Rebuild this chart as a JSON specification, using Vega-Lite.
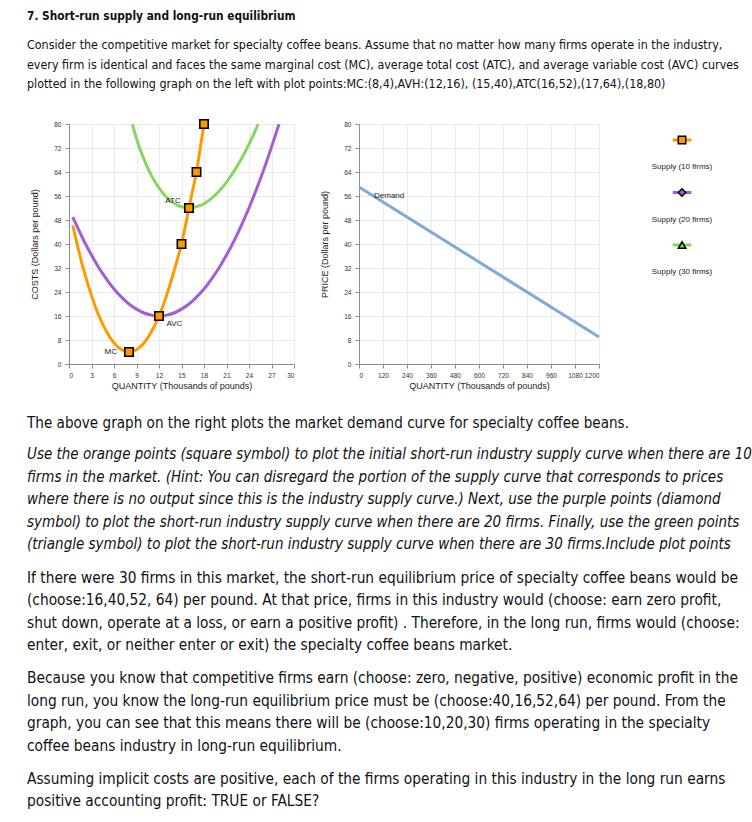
{
  "$schema": "https://vega.github.io/schema/vega-lite/v6.json",
  "background": "white",
  "padding": {"left": 27, "top": 7, "right": 0, "bottom": 0},
  "spacing": 10.5,
  "config": {
    "view": {"stroke": null},
    "axis": {
      "labelFont": "Liberation Sans", "titleFont": "Liberation Sans",
      "labelFontSize": 6.6, "titleFontSize": 9, "titleFontWeight": "normal",
      "labelColor": "#333333", "titleColor": "#222222",
      "domainColor": "#8c8c8c", "tickColor": "#8c8c8c", "gridColor": "#ebebeb",
      "tickSize": 4, "labelPadding": 4, "labelOverlap": false
    }
  },
  "vconcat": [
    {
      "width": 720, "height": 18,
      "data": {"values": [{"line": 1, "text": "7. Short-run supply and long-run equilibrium"}]},
      "mark": {"type": "text", "align": "left", "baseline": "middle", "font": "DejaVu Sans Condensed, DejaVu Sans, sans-serif", "fontSize": 11.8, "fontWeight": "bold", "color": "#111111"},
      "encoding": {
        "x": {"datum": 0, "type": "quantitative", "scale": {"domain": [0.05833, 1.05833], "nice": false, "zero": false}, "axis": null},
        "y": {"field": "line", "type": "quantitative", "scale": {"domain": [0.5, 1.5], "reverse": true, "nice": false, "zero": false}, "axis": null},
        "text": {"field": "text"}
      }
    },
    {
      "width": 720, "height": 70,
      "data": {"values": [
        {"line": 1, "text": "Consider the competitive market for specialty coffee beans. Assume that no matter how many firms operate in the industry,"},
        {"line": 2, "text": "every firm is identical and faces the same marginal cost (MC), average total cost (ATC), and average variable cost (AVC) curves"},
        {"line": 3, "text": "plotted in the following graph on the left with plot points:MC:(8,4),AVH:(12,16), (15,40),ATC(16,52),(17,64),(18,80)"}
      ]},
      "mark": {"type": "text", "align": "left", "baseline": "middle", "font": "DejaVu Sans Condensed, DejaVu Sans, sans-serif", "fontSize": 12.4, "color": "#111111"},
      "encoding": {
        "x": {"datum": 0, "type": "quantitative", "scale": {"domain": [0.05833, 1.05833], "nice": false, "zero": false}, "axis": null},
        "y": {"field": "line", "type": "quantitative", "scale": {"domain": [0.5, 4.09], "reverse": true, "nice": false, "zero": false}, "axis": null},
        "text": {"field": "text"}
      }
    },
    {
      "spacing": 25,
      "hconcat": [
        {
          "width": 225, "height": 240,
          "layer": [
            {
              "data": {"values": [
                {"curve": "MC", "q": 0.5, "c": 46.2}, {"curve": "MC", "q": 1, "c": 40.8}, {"curve": "MC", "q": 2, "c": 31}, {"curve": "MC", "q": 3, "c": 22.8}, {"curve": "MC", "q": 4, "c": 16}, {"curve": "MC", "q": 5, "c": 10.8}, {"curve": "MC", "q": 6, "c": 7}, {"curve": "MC", "q": 7, "c": 4.8}, {"curve": "MC", "q": 8, "c": 4}, {"curve": "MC", "q": 9, "c": 4.8}, {"curve": "MC", "q": 10, "c": 7}, {"curve": "MC", "q": 11, "c": 10.8}, {"curve": "MC", "q": 12, "c": 16}, {"curve": "MC", "q": 13, "c": 22.8}, {"curve": "MC", "q": 14, "c": 31}, {"curve": "MC", "q": 15, "c": 40}, {"curve": "MC", "q": 16, "c": 52}, {"curve": "MC", "q": 16.5, "c": 58}, {"curve": "MC", "q": 17, "c": 64}, {"curve": "MC", "q": 17.5, "c": 72}, {"curve": "MC", "q": 18, "c": 80},
                {"curve": "AVC", "q": 0.5, "c": 49}, {"curve": "AVC", "q": 1, "c": 46.3}, {"curve": "AVC", "q": 2, "c": 41}, {"curve": "AVC", "q": 3, "c": 36.3}, {"curve": "AVC", "q": 4, "c": 32}, {"curve": "AVC", "q": 5, "c": 28.3}, {"curve": "AVC", "q": 6, "c": 25}, {"curve": "AVC", "q": 7, "c": 22.3}, {"curve": "AVC", "q": 8, "c": 20}, {"curve": "AVC", "q": 9, "c": 18.3}, {"curve": "AVC", "q": 10, "c": 17}, {"curve": "AVC", "q": 11, "c": 16.3}, {"curve": "AVC", "q": 12, "c": 16}, {"curve": "AVC", "q": 13, "c": 16.3}, {"curve": "AVC", "q": 14, "c": 17}, {"curve": "AVC", "q": 15, "c": 18.3}, {"curve": "AVC", "q": 16, "c": 20}, {"curve": "AVC", "q": 17, "c": 22.3}, {"curve": "AVC", "q": 18, "c": 25}, {"curve": "AVC", "q": 19, "c": 28.3}, {"curve": "AVC", "q": 20, "c": 32}, {"curve": "AVC", "q": 21, "c": 36.3}, {"curve": "AVC", "q": 22, "c": 41}, {"curve": "AVC", "q": 23, "c": 46.3}, {"curve": "AVC", "q": 24, "c": 52}, {"curve": "AVC", "q": 25, "c": 58.3}, {"curve": "AVC", "q": 26, "c": 65}, {"curve": "AVC", "q": 27, "c": 72.3}, {"curve": "AVC", "q": 28, "c": 80},
                {"curve": "ATC", "q": 8.45, "c": 80}, {"curve": "ATC", "q": 9, "c": 75.1}, {"curve": "ATC", "q": 10, "c": 68.2}, {"curve": "ATC", "q": 11, "c": 62.8}, {"curve": "ATC", "q": 12, "c": 58.7}, {"curve": "ATC", "q": 13, "c": 55.6}, {"curve": "ATC", "q": 14, "c": 53.6}, {"curve": "ATC", "q": 15, "c": 52.4}, {"curve": "ATC", "q": 16, "c": 52}, {"curve": "ATC", "q": 17, "c": 52.4}, {"curve": "ATC", "q": 18, "c": 53.4}, {"curve": "ATC", "q": 19, "c": 55.2}, {"curve": "ATC", "q": 20, "c": 57.6}, {"curve": "ATC", "q": 21, "c": 60.6}, {"curve": "ATC", "q": 22, "c": 64.3}, {"curve": "ATC", "q": 23, "c": 68.5}, {"curve": "ATC", "q": 24, "c": 73.3}, {"curve": "ATC", "q": 25, "c": 78.7}, {"curve": "ATC", "q": 25.2, "c": 80}
              ]},
              "mark": {"type": "line", "interpolate": "monotone", "strokeWidth": 3, "clip": true},
              "encoding": {
                "x": {"field": "q", "type": "quantitative", "scale": {"domain": [0, 30], "nice": false},
                      "axis": {"values": [0, 3, 6, 9, 12, 15, 18, 21, 24, 27, 30], "tickCount": 11, "labelOverlap": false, "title": "QUANTITY (Thousands of pounds)", "titlePadding": 3}},
                "y": {"field": "c", "type": "quantitative", "scale": {"domain": [0, 80], "nice": false},
                      "axis": {"values": [0, 8, 16, 24, 32, 40, 48, 56, 64, 72, 80], "tickCount": 11, "labelOverlap": false, "title": "COSTS (Dollars per pound)", "titlePadding": 14}},
                "color": {"field": "curve", "type": "nominal", "scale": {"domain": ["MC", "AVC", "ATC"], "range": ["#ff9900", "#a25ed6", "#86d760"]}, "legend": null},
                "order": {"field": "q", "type": "quantitative"}
              }
            },
            {
              "data": {"values": [
                {"q": 8, "c": 4}, {"q": 12, "c": 16}, {"q": 15, "c": 40}, {"q": 16, "c": 52}, {"q": 17, "c": 64}, {"q": 18, "c": 80}
              ]},
              "mark": {"type": "point", "shape": "square", "filled": true, "size": 70, "fill": "#ff9900", "stroke": "#000000", "strokeWidth": 1.6, "opacity": 1},
              "encoding": {
                "x": {"field": "q", "type": "quantitative"},
                "y": {"field": "c", "type": "quantitative"}
              }
            },
            {
              "data": {"values": [
                {"label": "MC", "q": 6.4, "c": 4},
                {"label": "ATC", "q": 14.9, "c": 54.4}
              ]},
              "mark": {"type": "text", "align": "right", "baseline": "middle", "font": "Liberation Sans", "fontSize": 8, "color": "#222222"},
              "encoding": {
                "x": {"field": "q", "type": "quantitative"},
                "y": {"field": "c", "type": "quantitative"},
                "text": {"field": "label"}
              }
            },
            {
              "data": {"values": [
                {"label": "AVC", "q": 13.0, "c": 13.5}
              ]},
              "mark": {"type": "text", "align": "left", "baseline": "middle", "font": "Liberation Sans", "fontSize": 8, "color": "#222222"},
              "encoding": {
                "x": {"field": "q", "type": "quantitative"},
                "y": {"field": "c", "type": "quantitative"},
                "text": {"field": "label"}
              }
            }
          ]
        },
        {
          "width": 240, "height": 240,
          "layer": [
            {
              "data": {"values": [{"q": 0, "p": 59}, {"q": 1200, "p": 9}]},
              "mark": {"type": "line", "strokeWidth": 3, "color": "#7faad9"},
              "encoding": {
                "x": {"field": "q", "type": "quantitative", "scale": {"domain": [0, 1200], "nice": false},
                      "axis": {"values": [0, 120, 240, 360, 480, 600, 720, 840, 960, 1080, 1200], "tickCount": 11, "labelOverlap": false, "format": "d", "title": "QUANTITY (Thousands of pounds)", "titlePadding": 3}},
                "y": {"field": "p", "type": "quantitative", "scale": {"domain": [0, 80], "nice": false},
                      "axis": {"values": [0, 8, 16, 24, 32, 40, 48, 56, 64, 72, 80], "tickCount": 11, "labelOverlap": false, "title": "PRICE (Dollars per pound)", "titlePadding": 14}}
              }
            },
            {
              "data": {"values": [{"label": "Demand", "q": 75, "p": 56.1}]},
              "mark": {"type": "text", "align": "left", "baseline": "middle", "font": "Liberation Sans", "fontSize": 8, "color": "#222222"},
              "encoding": {
                "x": {"field": "q", "type": "quantitative"},
                "y": {"field": "p", "type": "quantitative"},
                "text": {"field": "label"}
              }
            }
          ]
        },
        {
          "width": 104, "height": 180,
          "data": {"values": [
            {"series": "Supply (10 firms)", "idx": 0},
            {"series": "Supply (20 firms)", "idx": 1},
            {"series": "Supply (30 firms)", "idx": 2}
          ]},
          "encoding": {
            "y": {"field": "idx", "type": "quantitative", "scale": {"domain": [-0.305, 3.124], "reverse": true, "nice": false, "zero": false}, "axis": null}
          },
          "layer": [
            {
              "mark": {"type": "rule", "strokeWidth": 3},
              "encoding": {
                "x": {"datum": 0.41, "type": "quantitative", "scale": {"domain": [0, 1]}, "axis": null},
                "x2": {"datum": 0.59},
                "color": {"field": "series", "type": "nominal", "scale": {"domain": ["Supply (10 firms)", "Supply (20 firms)", "Supply (30 firms)"], "range": ["#ff9900", "#a25ed6", "#86d760"]}, "legend": null}
              }
            },
            {
              "mark": {"type": "point", "filled": true, "size": 55, "stroke": "#000000", "strokeWidth": 1.5, "opacity": 1},
              "encoding": {
                "x": {"datum": 0.5, "type": "quantitative"},
                "fill": {"field": "series", "type": "nominal", "scale": {"domain": ["Supply (10 firms)", "Supply (20 firms)", "Supply (30 firms)"], "range": ["#ff9900", "#a25ed6", "#86d760"]}, "legend": null},
                "shape": {"field": "series", "type": "nominal", "scale": {"domain": ["Supply (10 firms)", "Supply (20 firms)", "Supply (30 firms)"], "range": ["square", "diamond", "triangle-up"]}, "legend": null}
              }
            },
            {
              "mark": {"type": "text", "align": "center", "baseline": "middle", "dy": 27, "font": "Liberation Sans", "fontSize": 8, "color": "#222222"},
              "encoding": {
                "x": {"datum": 0.5, "type": "quantitative"},
                "text": {"field": "series"}
              }
            }
          ]
        }
      ]
    },
    {
      "width": 720, "height": 30.75,
      "data": {"values": [{"line": 1, "text": "The above graph on the right plots the market demand curve for specialty coffee beans."}]},
      "mark": {"type": "text", "align": "left", "baseline": "middle", "font": "DejaVu Sans Condensed, DejaVu Sans, sans-serif", "fontSize": 15.1, "color": "#111111"},
      "encoding": {
        "x": {"datum": 0, "type": "quantitative", "scale": {"domain": [0.05833, 1.05833], "nice": false, "zero": false}, "axis": null},
        "y": {"field": "line", "type": "quantitative", "scale": {"domain": [0, 1.43], "reverse": true, "nice": false, "zero": false}, "axis": null},
        "text": {"field": "text"}
      }
    },
    {
      "width": 720, "height": 112.5,
      "data": {"values": [
        {"line": 1, "text": "Use the orange points (square symbol) to plot the initial short-run industry supply curve when there are 10"},
        {"line": 2, "text": "firms in the market. (Hint: You can disregard the portion of the supply curve that corresponds to prices"},
        {"line": 3, "text": "where there is no output since this is the industry supply curve.) Next, use the purple points (diamond"},
        {"line": 4, "text": "symbol) to plot the short-run industry supply curve when there are 20 firms. Finally, use the green points"},
        {"line": 5, "text": "(triangle symbol) to plot the short-run industry supply curve when there are 30 firms.Include plot points"}
      ]},
      "mark": {"type": "text", "align": "left", "baseline": "middle", "font": "DejaVu Sans Condensed, DejaVu Sans, sans-serif", "fontSize": 15, "fontStyle": "italic", "color": "#111111"},
      "encoding": {
        "x": {"datum": 0, "type": "quantitative", "scale": {"domain": [0.05833, 1.05833], "nice": false, "zero": false}, "axis": null},
        "y": {"field": "line", "type": "quantitative", "scale": {"domain": [0.5, 5.5], "reverse": true, "nice": false, "zero": false}, "axis": null},
        "text": {"field": "text"}
      }
    },
    {
      "width": 720, "height": 90,
      "data": {"values": [
        {"line": 1, "text": "If there were 30 firms in this market, the short-run equilibrium price of specialty coffee beans would be"},
        {"line": 2, "text": "(choose:16,40,52, 64) per pound. At that price, firms in this industry would (choose: earn zero profit,"},
        {"line": 3, "text": "shut down, operate at a loss, or earn a positive profit) . Therefore, in the long run, firms would (choose:"},
        {"line": 4, "text": "enter, exit, or neither enter or exit)  the specialty coffee beans market."}
      ]},
      "mark": {"type": "text", "align": "left", "baseline": "middle", "font": "DejaVu Sans Condensed, DejaVu Sans, sans-serif", "fontSize": 15.3, "color": "#111111"},
      "encoding": {
        "x": {"datum": 0, "type": "quantitative", "scale": {"domain": [0.05833, 1.05833], "nice": false, "zero": false}, "axis": null},
        "y": {"field": "line", "type": "quantitative", "scale": {"domain": [0.5, 4.5], "reverse": true, "nice": false, "zero": false}, "axis": null},
        "text": {"field": "text"}
      }
    },
    {
      "width": 720, "height": 90,
      "data": {"values": [
        {"line": 1, "text": "Because you know that competitive firms earn (choose: zero, negative, positive)   economic profit in the"},
        {"line": 2, "text": "long run, you know the long-run equilibrium price must be (choose:40,16,52,64)    per pound. From the"},
        {"line": 3, "text": "graph, you can see that this means there will be (choose:10,20,30)    firms operating in the specialty"},
        {"line": 4, "text": "coffee beans industry in long-run equilibrium."}
      ]},
      "mark": {"type": "text", "align": "left", "baseline": "middle", "font": "DejaVu Sans Condensed, DejaVu Sans, sans-serif", "fontSize": 15.3, "color": "#111111"},
      "encoding": {
        "x": {"datum": 0, "type": "quantitative", "scale": {"domain": [0.05833, 1.05833], "nice": false, "zero": false}, "axis": null},
        "y": {"field": "line", "type": "quantitative", "scale": {"domain": [0.5, 4.5], "reverse": true, "nice": false, "zero": false}, "axis": null},
        "text": {"field": "text"}
      }
    },
    {
      "width": 720, "height": 45,
      "data": {"values": [
        {"line": 1, "text": "Assuming implicit costs are positive, each of the firms operating in this industry in the long run earns"},
        {"line": 2, "text": "positive accounting profit: TRUE or FALSE?"}
      ]},
      "mark": {"type": "text", "align": "left", "baseline": "middle", "font": "DejaVu Sans Condensed, DejaVu Sans, sans-serif", "fontSize": 15.3, "color": "#111111"},
      "encoding": {
        "x": {"datum": 0, "type": "quantitative", "scale": {"domain": [0.05833, 1.05833], "nice": false, "zero": false}, "axis": null},
        "y": {"field": "line", "type": "quantitative", "scale": {"domain": [0.5, 2.5], "reverse": true, "nice": false, "zero": false}, "axis": null},
        "text": {"field": "text"}
      }
    }
  ]
}
